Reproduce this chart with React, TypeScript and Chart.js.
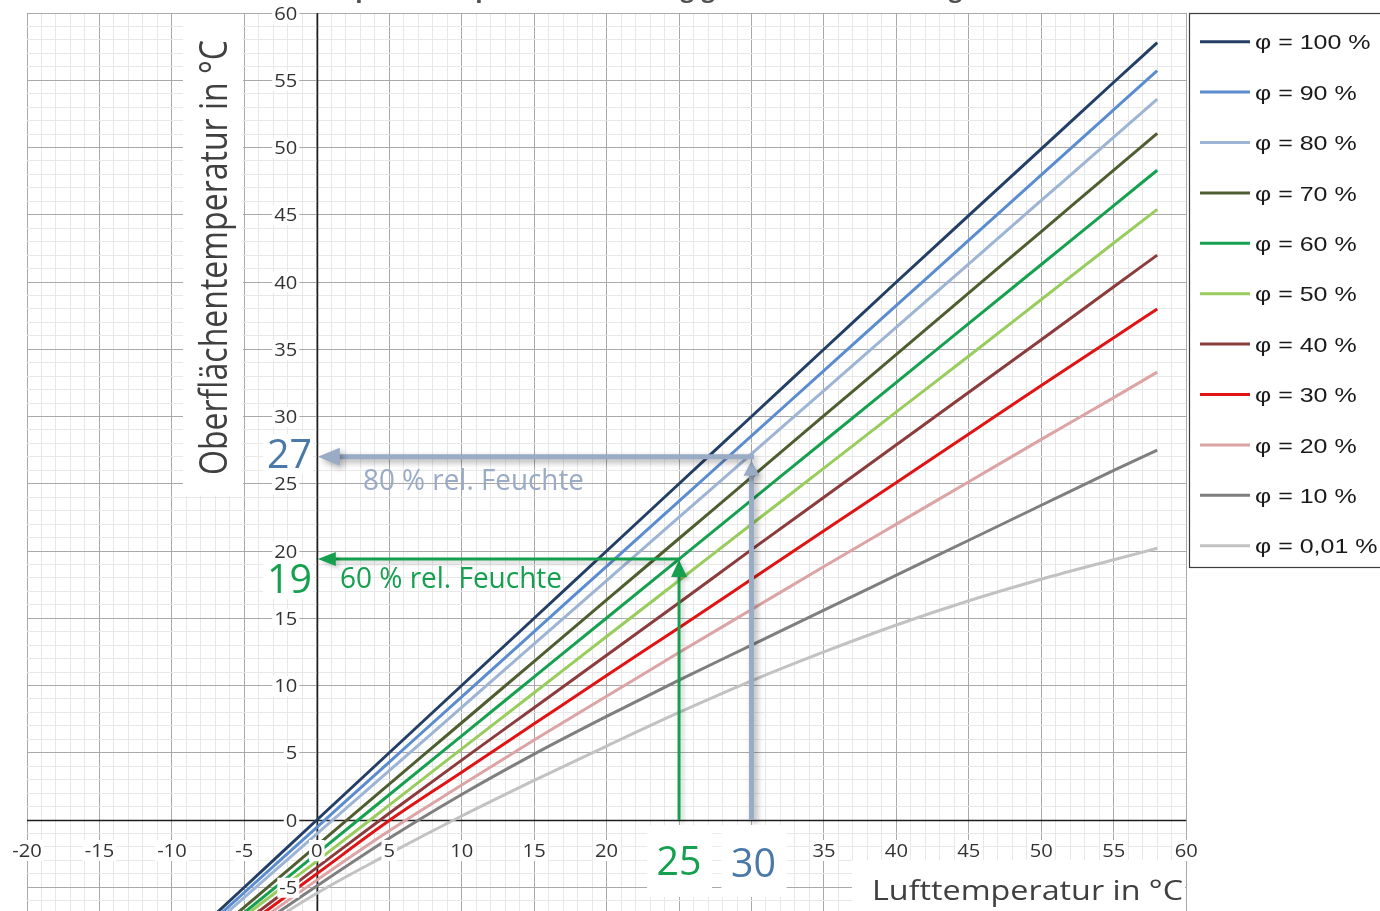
import React, { useEffect, useRef } from 'react';
import { Chart, registerables } from 'chart.js';

Chart.register(...registerables);

// ---------- data ----------
const AIR_TEMP = [-10, -5, 0, 5, 10, 15, 20, 25, 30, 35, 40, 45, 50, 55, 58];

const RH100 = [-10, -5, 0, 5, 10, 15, 20, 25, 30, 35, 40, 44.95, 49.9, 54.85, 57.8];
const RH90 = [-10.24, -5.39, -0.54, 4.31, 9.16, 14.01, 18.86, 23.71, 28.56, 33.41, 38.26, 43.11, 47.96, 52.81, 55.72];
const RH80 = [-10.46, -5.75, -1.04, 3.67, 8.38, 13.09, 17.8, 22.51, 27.22, 31.93, 36.64, 41.35, 46.06, 50.77, 53.6];
const RH70 = [-11.03, -6.47, -1.9, 2.67, 7.23, 11.8, 16.36, 20.93, 25.49, 30.06, 34.62, 39.19, 43.75, 48.32, 51.05];
const RH60 = [-11.26, -6.88, -2.5, 1.88, 6.26, 10.64, 15.02, 19.4, 23.78, 28.16, 32.54, 36.92, 41.3, 45.68, 48.31];
const RH50 = [-11.39, -7.16, -3.06, 1.11, 5.29, 9.46, 13.64, 17.81, 21.99, 26.16, 30.34, 34.5, 38.7, 42.9, 45.4];
const RH40 = [-11.7, -7.6, -3.54, 0.5, 4.45, 8.35, 12.25, 16.15, 20.1, 24.0, 27.9, 31.8, 35.7, 39.65, 42.0];
const RH30 = [-11.96, -7.96, -4.0, -0.04, 3.55, 7.15, 10.75, 14.3, 17.9, 21.5, 25.1, 28.7, 32.3, 35.85, 38.0];
const RH20 = [-12.2, -8.3, -4.47, -0.8, 2.6, 5.95, 9.2, 12.45, 15.65, 18.85, 22.0, 25.15, 28.3, 31.4, 33.3];
const RH10 = [-12.4, -8.6, -4.9, -1.35, 1.9, 4.9, 7.7, 10.4, 13.0, 15.6, 18.2, 20.8, 23.4, 26.0, 27.5];
const RH001 = [-12.8, -8.9, -5.45, -2.5, 0.3, 2.95, 5.5, 8.0, 10.35, 12.5, 14.5, 16.3, 17.9, 19.35, 20.2];

const SERIES_VALUES = [RH100, RH90, RH80, RH70, RH60, RH50, RH40, RH30, RH20, RH10, RH001];
const SERIES_LABELS = [
  'φ = 100 %', 'φ = 90 %', 'φ = 80 %', 'φ = 70 %', 'φ = 60 %', 'φ = 50 %',
  'φ = 40 %', 'φ = 30 %', 'φ = 20 %', 'φ = 10 %', 'φ = 0,01 %',
];
const SERIES_COLORS = [
  '#243f66', '#5b8cd0', '#9db4d4', '#4f5e30', '#16a04f', '#98cc5c',
  '#8c3c3c', '#e01414', '#dca4a4', '#7f7f7f', '#c2c2c2',
];

const X_RANGE = [-20, 60];
const Y_RANGE = [-10, 60];
const LABEL_STEP = 5;

// worked examples (air temperature -> surface/dew temperature)
const EXAMPLE_AIR = [25, 30];
const EXAMPLE_DEW = [19.4, 27];
const EXAMPLE_AIR_TEXT = ['25', '30'];
const EXAMPLE_DEW_TEXT = ['19', '27'];
const EXAMPLE_RH_TEXT = ['60 % rel. Feuchte', '80 % rel. Feuchte'];
const EXAMPLE_COLORS = ['#15a04f', '#9aabc6'];
const EXAMPLE_TEXT_COLORS = ['#15a04f', '#4a78a8'];
const EXAMPLE_RH_COLORS = ['#15a04f', '#9aabc6'];

const TITLE = 'Taupunkttemperatur in Abhängigkeit der Luftfeuchtigkeit';
const X_TITLE = 'Lufttemperatur in °C';
const Y_TITLE = 'Oberflächentemperatur in °C';

// ---------- drawing helpers ----------
function measure(ctx: CanvasRenderingContext2D, text: string, font: string) {
  ctx.save();
  ctx.font = font;
  const w = ctx.measureText(text).width;
  ctx.restore();
  return w;
}

function drawText(
  ctx: CanvasRenderingContext2D,
  text: string,
  x: number,
  baseline: number,
  font: string,
  color: string,
  opts: { width?: number; sx?: number; align?: 'left' | 'center' | 'right' } = {}
) {
  ctx.save();
  ctx.font = font;
  ctx.fillStyle = color;
  ctx.textAlign = 'left';
  ctx.textBaseline = 'alphabetic';
  const w = ctx.measureText(text).width;
  const sx = opts.width ? opts.width / w : opts.sx ?? 1;
  const tw = w * sx;
  let left = x;
  if (opts.align === 'center') left = x - tw / 2;
  else if (opts.align === 'right') left = x - tw;
  ctx.translate(left, baseline);
  ctx.scale(sx, 1);
  ctx.fillText(text, 0, 0);
  ctx.restore();
  return tw;
}

function arrowHead(
  ctx: CanvasRenderingContext2D,
  tipX: number,
  tipY: number,
  dir: 'up' | 'left',
  len: number,
  half: number
) {
  ctx.beginPath();
  if (dir === 'up') {
    ctx.moveTo(tipX, tipY);
    ctx.lineTo(tipX - half, tipY + len);
    ctx.lineTo(tipX + half, tipY + len);
  } else {
    ctx.moveTo(tipX, tipY);
    ctx.lineTo(tipX + len, tipY - half);
    ctx.lineTo(tipX + len, tipY + half);
  }
  ctx.closePath();
  ctx.fill();
}

const TICK_FONT = '18px "Open Sans"';
const TICK_SX = 1.12;

const overlayPlugin = {
  id: 'overlay',
  beforeDatasetsDraw(chart: any) {
    const ctx: CanvasRenderingContext2D = chart.ctx;
    const area = chart.chartArea;
    const px0 = Math.round(chart.scales.x.getPixelForValue(0)) + 0.5;
    const py0 = Math.round(chart.scales.y.getPixelForValue(0)) + 0.5;
    ctx.save();
    ctx.strokeStyle = '#1e1e1e';
    ctx.lineWidth = 1.5;
    ctx.beginPath();
    ctx.moveTo(px0, area.top);
    ctx.lineTo(px0, area.bottom);
    ctx.moveTo(area.left, py0);
    ctx.lineTo(area.right, py0);
    ctx.stroke();
    ctx.restore();
  },
  afterDatasetsDraw(chart: any) {
    const ctx: CanvasRenderingContext2D = chart.ctx;
    const xs = chart.scales.x;
    const ys = chart.scales.y;
    const px0 = xs.getPixelForValue(0);
    const py0 = ys.getPixelForValue(0);

    ctx.save();

    // white panels behind axis titles
    ctx.fillStyle = '#ffffff';
    ctx.fillRect(183, 14.5, 60, 481);
    ctx.fillRect(852, 860, 333, 60);

    // tick labels (from the scale's own ticks)
    xs.ticks.forEach((t: any) => {
      if (t.value % LABEL_STEP !== 0) return;
      const cx = xs.getPixelForValue(t.value);
      const txt = String(t.value);
      const w = measure(ctx, txt, TICK_FONT) * TICK_SX;
      ctx.fillStyle = '#ffffff';
      ctx.fillRect(cx - w / 2 - 2, 840, w + 4, 21);
      drawText(ctx, txt, cx, 856.5, TICK_FONT, '#333333', { sx: TICK_SX, align: 'center' });
    });
    ys.ticks.forEach((t: any) => {
      if (t.value % LABEL_STEP !== 0) return;
      const cy = ys.getPixelForValue(t.value);
      const txt = String(t.value);
      const w = measure(ctx, txt, TICK_FONT) * TICK_SX;
      const right = px0 - 19.5;
      ctx.fillStyle = '#ffffff';
      ctx.fillRect(right - w - 2, cy - 9.5, w + 4, 20);
      drawText(ctx, txt, right, cy + 6.5, TICK_FONT, '#333333', { sx: TICK_SX, align: 'right' });
    });

    // axis titles
    drawText(ctx, X_TITLE, 872, 900, '28px "Open Sans"', '#404040', { width: 311 });
    ctx.save();
    ctx.translate(227, 475);
    ctx.rotate(-Math.PI / 2);
    ctx.font = '33px "Open Sans"';
    const yw = ctx.measureText(Y_TITLE).width;
    ctx.scale(435 / yw, 1.14);
    ctx.fillStyle = '#404040';
    ctx.textBaseline = 'alphabetic';
    ctx.textAlign = 'left';
    ctx.fillText(Y_TITLE, 0, 0);
    ctx.restore();

    // example arrows
    EXAMPLE_AIR.forEach((air, i) => {
      const ax = xs.getPixelForValue(air);
      const dy = ys.getPixelForValue(EXAMPLE_DEW[i]);
      const thick = i === 1;
      const lw = thick ? 5 : 3;
      const headLen = thick ? 15 : 17;
      const headHalf = 8;
      const upTip = thick ? dy + 4 : dy + 1;
      ctx.save();
      ctx.shadowColor = thick ? 'rgba(0,0,0,0.35)' : 'rgba(0,0,0,0.2)';
      ctx.shadowBlur = thick ? 6 : 4;
      ctx.shadowOffsetX = 3;
      ctx.shadowOffsetY = 3;
      ctx.strokeStyle = EXAMPLE_COLORS[i];
      ctx.fillStyle = EXAMPLE_COLORS[i];
      ctx.lineWidth = lw;
      ctx.lineCap = 'butt';
      ctx.beginPath();
      ctx.moveTo(ax, py0);
      ctx.lineTo(ax, upTip + headLen - 1);
      ctx.stroke();
      arrowHead(ctx, ax, upTip, 'up', headLen, headHalf);
      ctx.beginPath();
      ctx.moveTo(ax + lw / 2, dy);
      ctx.lineTo(px0 + 1 + (thick ? 21 : 17), dy);
      ctx.stroke();
      arrowHead(ctx, px0 + 1, dy, 'left', thick ? 22 : 18, thick ? 9 : 7);
      ctx.restore();
    });

    // example labels
    EXAMPLE_AIR.forEach((air, i) => {
      const ax = xs.getPixelForValue(air) + (i === 1 ? 2 : 0);
      const dy = ys.getPixelForValue(EXAMPLE_DEW[i]);
      ctx.fillStyle = '#ffffff';
      ctx.fillRect(ax - 32, 825, 65, 72);
      drawText(ctx, EXAMPLE_AIR_TEXT[i], ax, i === 1 ? 877 : 875, '40px "Open Sans"', EXAMPLE_TEXT_COLORS[i], {
        width: 45,
        align: 'center',
      });
      const ly = i === 1 ? dy + 11 : dy + 34;
      ctx.fillStyle = '#ffffff';
      ctx.fillRect(263, ly - 34, 50, 40);
      drawText(ctx, EXAMPLE_DEW_TEXT[i], 289.5, ly, '40px "Open Sans"', EXAMPLE_TEXT_COLORS[i], {
        width: 45,
        align: 'center',
      });
      drawText(
        ctx,
        EXAMPLE_RH_TEXT[i],
        i === 1 ? 363 : 340,
        i === 1 ? dy + 33 : dy + 29,
        '29px "Open Sans"',
        EXAMPLE_RH_COLORS[i],
        { width: i === 1 ? 221 : 222 }
      );
    });

    // legend
    const lx = 1189.5;
    const ly0 = 13.5;
    const ly1 = 567.5;
    ctx.fillStyle = '#ffffff';
    ctx.fillRect(lx, ly0, 300, ly1 - ly0);
    ctx.strokeStyle = '#3c3c3c';
    ctx.lineWidth = 1.2;
    ctx.strokeRect(lx, ly0, 300, ly1 - ly0);
    chart.data.datasets.forEach((ds: any, i: number) => {
      const cy = 41.7 + i * 50.4;
      ctx.strokeStyle = ds.borderColor;
      ctx.lineWidth = 3;
      ctx.beginPath();
      ctx.moveTo(1200, cy);
      ctx.lineTo(1250, cy);
      ctx.stroke();
      drawText(ctx, ds.label, 1255, cy + 7.6, '21px "Liberation Sans"', '#1a1a1a', { sx: 1.19 });
    });

    // (cropped) chart title
    drawText(ctx, TITLE, 660, -3.5, 'bold 24px "Open Sans"', '#505050', { align: 'center' });

    ctx.restore();
  },
};

function gridColor(c: any) {
  const v = c.tick ? c.tick.value : 1;
  if (v % LABEL_STEP === 0) return '#a9a9a9';
  return '#e8e8e8';
}

export default function App() {
  const ref = useRef<HTMLCanvasElement>(null);

  useEffect(() => {
    if (!ref.current) return;
    const chart = new Chart(ref.current, {
      type: 'line',
      data: {
        datasets: SERIES_VALUES.map((vals, i) => ({
          label: SERIES_LABELS[i],
          data: AIR_TEMP.map((x, j) => ({ x, y: vals[j] })),
          borderColor: SERIES_COLORS[i],
          backgroundColor: SERIES_COLORS[i],
          borderWidth: 3,
          pointRadius: 0,
          fill: false,
          cubicInterpolationMode: 'monotone' as const,
        })),
      },
      options: {
        animation: false,
        responsive: false,
        devicePixelRatio: 1,
        layout: { padding: { left: 27, right: 193.8, top: 13, bottom: 5.5 } },
        plugins: {
          legend: { display: false },
          tooltip: { enabled: false },
          title: { display: false },
        },
        scales: {
          x: {
            type: 'linear',
            min: X_RANGE[0],
            max: X_RANGE[1],
            ticks: { display: false, stepSize: 1, autoSkip: false },
            grid: { drawTicks: false, color: gridColor, lineWidth: 1 },
            border: { display: false },
          },
          y: {
            type: 'linear',
            min: Y_RANGE[0],
            max: Y_RANGE[1],
            ticks: { display: false, stepSize: 1, autoSkip: false },
            grid: { drawTicks: false, color: gridColor, lineWidth: 1 },
            border: { display: false },
          },
        },
      },
      plugins: [overlayPlugin],
    });
    return () => chart.destroy();
  }, []);

  return (
    <div
      style={{
        position: 'fixed',
        left: 0,
        top: 0,
        width: 1380,
        height: 911,
        overflow: 'hidden',
        background: '#ffffff',
      }}
    >
      <canvas ref={ref} width={1380} height={960} style={{ display: 'block', width: 1380, height: 960 }} />
    </div>
  );
}
